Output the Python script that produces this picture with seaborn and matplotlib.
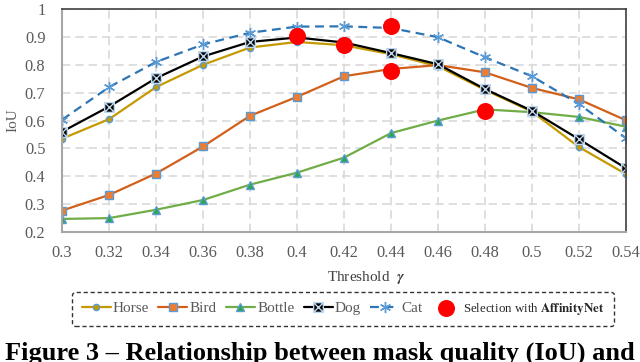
import numpy as np
import pandas as pd
import matplotlib
matplotlib.use("Agg")
import matplotlib.pyplot as plt
from matplotlib.path import Path
import seaborn as sns

# -------------------------
# Data
# -------------------------
thresholds = [0.30, 0.32, 0.34, 0.36, 0.38, 0.40, 0.42, 0.44, 0.46, 0.48, 0.50, 0.52, 0.54]
horse = [0.535, 0.605, 0.720, 0.800, 0.862, 0.882, 0.870, 0.838, 0.795, 0.710, 0.632, 0.505, 0.408]
bird = [0.277, 0.333, 0.410, 0.507, 0.617, 0.685, 0.759, 0.785, 0.799, 0.773, 0.717, 0.676, 0.601]
bottle = [0.247, 0.250, 0.280, 0.315, 0.370, 0.413, 0.467, 0.555, 0.600, 0.640, 0.630, 0.613, 0.578]
dog = [0.560, 0.650, 0.752, 0.830, 0.882, 0.898, 0.880, 0.842, 0.802, 0.713, 0.635, 0.533, 0.429]
cat = [0.603, 0.720, 0.810, 0.873, 0.915, 0.937, 0.938, 0.932, 0.899, 0.827, 0.759, 0.659, 0.537]

sel_x = [0.40, 0.42, 0.44, 0.44, 0.48]
sel_y = [0.903, 0.870, 0.938, 0.777, 0.635]

x_ticks = [0.30, 0.32, 0.34, 0.36, 0.38, 0.40, 0.42, 0.44, 0.46, 0.48, 0.50, 0.52, 0.54]
x_labels = ["0.3", "0.32", "0.34", "0.36", "0.38", "0.4", "0.42", "0.44", "0.46", "0.48", "0.5", "0.52", "0.54"]
y_ticks = [0.2, 0.3, 0.4, 0.5, 0.6, 0.7, 0.8, 0.9, 1.0]
y_labels = ["0.2", "0.3", "0.4", "0.5", "0.6", "0.7", "0.8", "0.9", "1"]

# -------------------------
# Style
# -------------------------
sns.set_style("white")
plt.rcParams["font.family"] = ["Liberation Serif", "DejaVu Serif"]
plt.rcParams["mathtext.fontset"] = "stix"

EDGE = "#5B9BD5"
GREY_TXT = "#595959"

# square with an X inside (Excel "dog" marker)
sqx = Path(
    [(-1, -1), (1, -1), (1, 1), (-1, 1), (-1, -1), (-1, -1), (1, 1), (-1, 1), (1, -1)],
    [Path.MOVETO, Path.LINETO, Path.LINETO, Path.LINETO, Path.CLOSEPOLY,
     Path.MOVETO, Path.LINETO, Path.MOVETO, Path.LINETO],
)

series = [
    ("Horse", horse, dict(color="#C59A00", marker="o", ms=4.5, mfc="#C59A00", mec=EDGE, ls="-")),
    ("Bird", bird, dict(color="#D2601A", marker="s", ms=6, mfc="#ED7D31", mec=EDGE, ls="-")),
    ("Bottle", bottle, dict(color="#70AD47", marker="^", ms=5.5, mfc="#2BA84A", mec=EDGE, ls="-")),
    ("Dog", dog, dict(color="black", marker=sqx, ms=7, mfc="black", mec="#BDD7EE", ls="-")),
    ("Cat", cat, dict(color="#2E75B6", marker=(6, 2, 0), ms=8, mfc=EDGE, mec=EDGE, ls=(0, (4, 2.5)))),
]

fig = plt.figure(figsize=(6.4, 3.62), dpi=100)
ax = fig.add_axes([0.097, 0.359, 0.881, 0.616])

for name, vals, st in series:
    df = pd.DataFrame({"threshold": thresholds, "IoU": vals})
    sns.lineplot(data=df, x="threshold", y="IoU", ax=ax, label=name,
                 color=st["color"], linewidth=1.6, linestyle=st["ls"],
                 marker=st["marker"], markersize=st["ms"],
                 markerfacecolor=st["mfc"], markeredgecolor=st["mec"],
                 markeredgewidth=1.0)

sel = pd.DataFrame({"threshold": sel_x, "IoU": sel_y})
sns.scatterplot(data=sel, x="threshold", y="IoU", ax=ax, color="#FF0000",
                s=150, linewidth=0, zorder=5,
                label="Selection with $\\mathbf{AffinityNet}$")

ax.set_xlim(0.30, 0.54)
ax.set_ylim(0.2, 1.0)
ax.set_xticks(x_ticks)
ax.set_xticklabels(x_labels)
ax.set_yticks(y_ticks)
ax.set_yticklabels(y_labels)
ax.tick_params(axis="x", labelsize=11.8, colors=GREY_TXT, length=0, pad=9)
ax.tick_params(axis="y", labelsize=11.8, colors=GREY_TXT, length=0, pad=12)
ax.grid(True, color="#D9D9D9", linestyle=(0, (5, 3)), linewidth=1.2)
ax.set_axisbelow(True)

for side in ["left", "bottom"]:
    ax.spines[side].set_color("#A6A6A6")
    ax.spines[side].set_linewidth(1.5)
for side in ["top", "right"]:
    ax.spines[side].set_color("#404040")
    ax.spines[side].set_linewidth(1.2)

ax.set_ylabel("IoU", fontsize=11, color=GREY_TXT, labelpad=4)
ax.set_xlabel("")
fig.text(0.572, 0.234, "Threshold  $\\mathbfit{\\gamma}$", ha="center", va="center",
         fontsize=11, color="#404040")

# -------------------------
# Legend
# -------------------------
handles, labels = ax.get_legend_handles_labels()
if ax.legend_:
    ax.legend_.remove()
leg = fig.legend(handles, labels, loc="center", bbox_to_anchor=(0.536, 0.146),
                 ncol=6, frameon=True, fontsize=11, handlelength=1.9,
                 handletextpad=0.15, columnspacing=0.6, borderpad=0.6,
                 fancybox=True, labelcolor=GREY_TXT)
leg.get_frame().set_edgecolor("black")
leg.get_frame().set_linestyle((0, (3, 2)))
leg.get_frame().set_linewidth(1.0)
leg.texts[-1].set_fontsize(9.3)
leg.texts[-1].set_color("#262626")

# caption (cut off at the bottom as in the source)
fig.text(0.5, 0.056, "Figure 3 \u2013 Relationship between mask quality (IoU) and",
         ha="center", va="top", fontsize=19, fontweight="bold", color="black")

plt.savefig("out.png", dpi=100)
plt.close()
